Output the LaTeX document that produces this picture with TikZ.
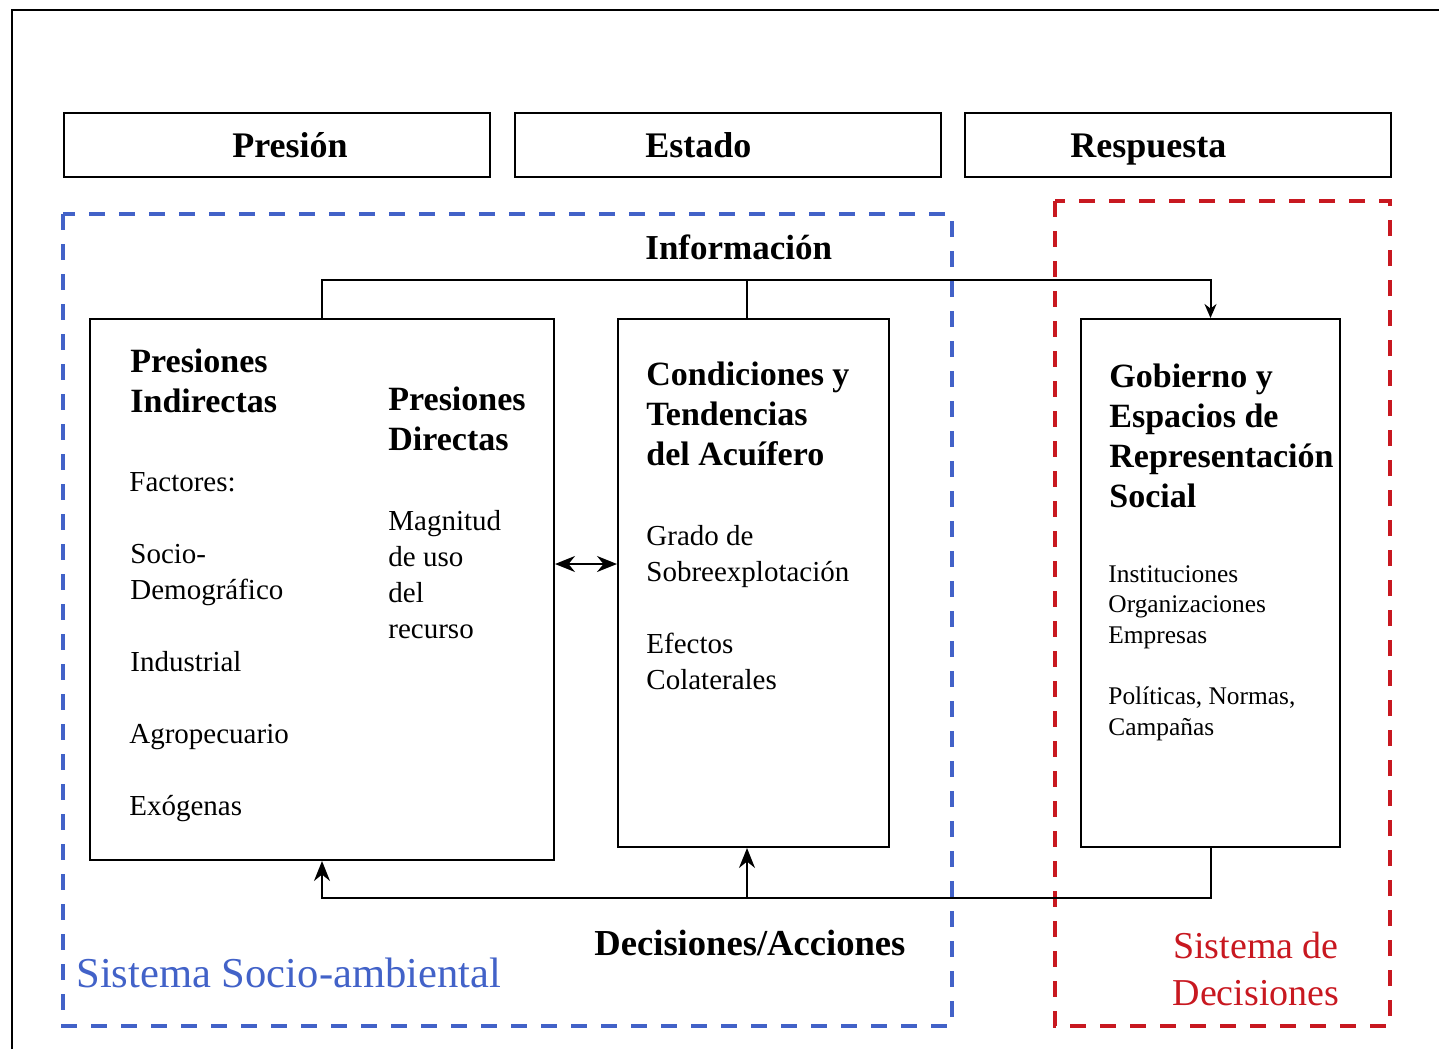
\documentclass[tikz,border=0pt]{standalone}
\usepackage{fontspec}
\setmainfont{Liberation Serif}
\usetikzlibrary{arrows.meta}

\definecolor{azulsis}{RGB}{66,98,200}
\definecolor{rojosis}{RGB}{200,24,32}

\tikzset{
  caja/.style={draw, line width=1pt, inner sep=0pt},
  enc/.style={font=\fontsize{18}{20}\selectfont\bfseries, anchor=base west, inner sep=0pt},
  tit/.style={font=\fontsize{17}{20}\selectfont\bfseries, align=left, anchor=base west, inner sep=0pt},
  txt/.style={font=\fontsize{14.5}{18}\selectfont, align=left, anchor=base west, inner sep=0pt},
  txtch/.style={font=\fontsize{12.7}{15.25}\selectfont, align=left, anchor=base west, inner sep=0pt},
  flecha/.style={line width=1pt, -{Stealth[length=7pt,width=6pt]}},
  flechag/.style={line width=1pt, -{Stealth[length=10pt,width=8pt]}},
  dflecha/.style={line width=1pt, {Stealth[length=10pt,width=8pt]}-{Stealth[length=10pt,width=8pt]}},
  linea/.style={line width=1pt},
  sistema/.style={dash pattern=on 8pt off 7pt, line width=1.6pt},
}

\begin{document}
\begin{tikzpicture}[x=0.5pt, y=-0.5pt]
  \useasboundingbox (0,0) rectangle (1439,1049);
  % marco
  \draw[line width=1pt] (12,1049) -- (12,10) -- (1439,10);

  % Presion - Estado - Respuesta
  \node[caja, minimum width=213pt, minimum height=32pt] (presion) at (277,145) {};
  \node[caja, minimum width=213pt, minimum height=32pt] (estado) at (727.5,145) {};
  \node[caja, minimum width=213pt, minimum height=32pt] (respuesta) at (1178,145) {};
  \node[enc] (tpresion) at (232,157) {Presión};
  \node[enc] (testado) at (645,157) {Estado};
  \node[enc] (trespuesta) at (1070,157) {Respuesta};

  % sistemas
  \draw[sistema, azulsis] (63,214) rectangle (952,1026);
  \draw[sistema, rojosis] (1055,201) rectangle (1390,1026);

  % cajas
  \node[caja, minimum width=232pt, minimum height=270.5pt] (presiones) at (322,589.5) {};
  \node[caja, minimum width=135.5pt, minimum height=264pt] (condiciones) at (753.5,583) {};
  \node[caja, minimum width=129.5pt, minimum height=264pt] (gobierno) at (1210.5,583) {};

  % textos (anclados en la ultima linea)
  \node[tit] (indirectas) at (130,412) {Presiones\\Indirectas};
  \node[txt] (factores) at (129,491) {Factores:};
  \node[txt] (socio) at (130,599) {Socio-\\Demográfico};
  \node[txt] (industrial) at (130,671) {Industrial};
  \node[txt] (agro) at (129,743) {Agropecuario};
  \node[txt] (exogenas) at (129,815) {Exógenas};
  \node[tit] (directas) at (388,450) {Presiones\\Directas};
  \node[txt] (magnitud) at (388,638) {Magnitud\\de uso\\del\\recurso};

  \node[tit] (tcondiciones) at (646,465) {Condiciones y\\Tendencias\\del Acuífero};
  \node[txt] (grado) at (646,581) {Grado de\\Sobreexplotación};
  \node[txt] (efectos) at (646,689) {Efectos\\Colaterales};

  \node[tit] (tgobierno) at (1109,507) {Gobierno y\\Espacios de\\Representación\\Social};
  \node[txtch] (instituciones) at (1108,643) {Instituciones\\Organizaciones\\Empresas};
  \node[txtch] (politicas) at (1108,735) {Políticas, Normas,\\Campañas};

  % etiquetas
  \node[font=\fontsize{17.5}{20}\selectfont\bfseries, anchor=base west, inner sep=0pt] (informacion) at (645,259) {Información};
  \node[font=\fontsize{18.3}{20}\selectfont\bfseries, anchor=base west, inner sep=0pt] (decisiones) at (594,955) {Decisiones/Acciones};
  \node[font=\fontsize{21.3}{24}\selectfont, text=azulsis, anchor=base west, inner sep=0pt] (socioamb) at (76,987) {Sistema Socio-ambiental};
  \node[font=\fontsize{19}{23.5}\selectfont, text=rojosis, align=center, anchor=base, inner sep=0pt] (sisdec) at (1256,1005) {Sistema de\\Decisiones};

  % conexiones
  \coordinate (info) at (0,280);
  \coordinate (dec) at (0,898);
  \coordinate (dobl) at (0,564);
  \coordinate (enlace) at (747,0);
  \draw[flecha] (presiones.north) |- (gobierno.north |- info) -- (gobierno.north);
  \draw[linea] (enlace |- condiciones.north) -- (enlace |- info);
  \draw[flechag] (gobierno.south) |- (presiones.south |- dec) -- (presiones.south);
  \draw[flechag] (enlace |- dec) -- (enlace |- condiciones.south);
  \draw[dflecha] (presiones.east |- dobl) -- (condiciones.west |- dobl);
\end{tikzpicture}
\end{document}
